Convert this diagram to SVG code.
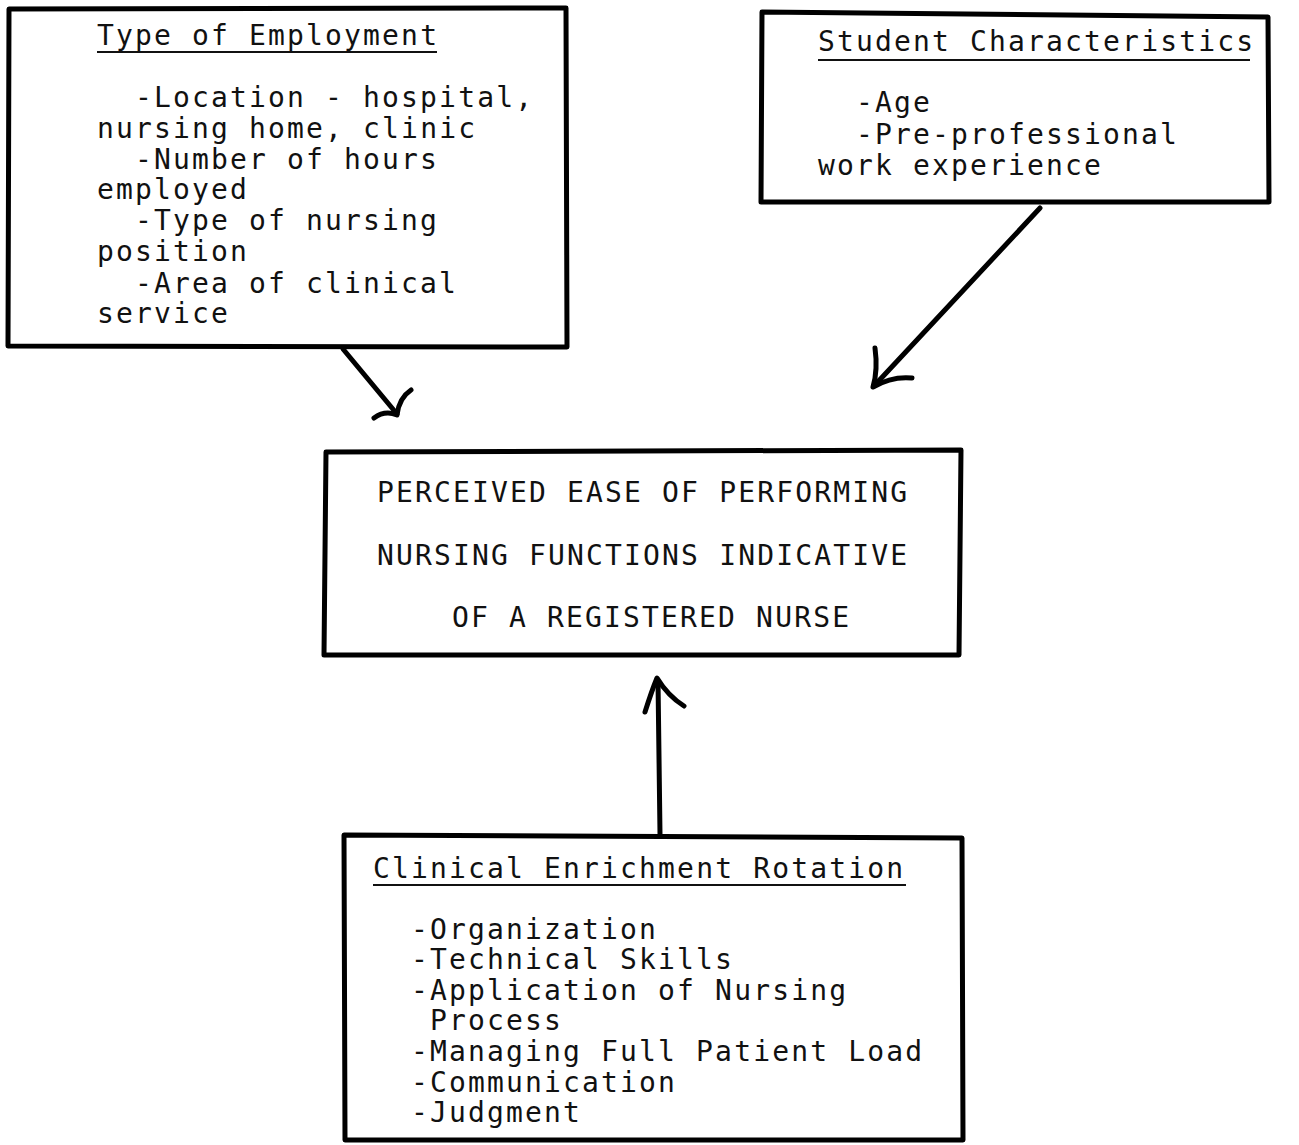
<svg xmlns="http://www.w3.org/2000/svg" width="1299" height="1145" viewBox="0 0 1299 1145">
<style>
  .box { fill: none; stroke: #000; stroke-width: 5; stroke-linejoin: round; stroke-linecap: round; }
  .t { font-family: "DejaVu Sans Mono", "Liberation Mono", monospace; font-size: 28px; letter-spacing: 2.15px; fill: #111; }
  .ul { stroke: #111; stroke-width: 2; }
  .conn { fill: none; stroke: #000; stroke-width: 5; stroke-linecap: round; stroke-linejoin: round; }
</style>
<rect width="1299" height="1145" fill="#fff"/>

<g id="type-of-employment">
  <path class="box" d="M9 9 L566 8 L567 347 L8 346 Z"/>
  <text class="t" x="97" y="45">Type of Employment</text>
  <line class="ul" x1="97" y1="52" x2="437" y2="52"/>
  <text class="t" x="135" y="107">-Location - hospital,</text>
  <text class="t" x="97" y="138">nursing home, clinic</text>
  <text class="t" x="135" y="169">-Number of hours</text>
  <text class="t" x="97" y="199">employed</text>
  <text class="t" x="135" y="230">-Type of nursing</text>
  <text class="t" x="97" y="261">position</text>
  <text class="t" x="135" y="293">-Area of clinical</text>
  <text class="t" x="97" y="323">service</text>
</g>

<g id="student-characteristics">
  <path class="box" d="M762 12 L1268 17 L1269 202 L761 202 Z"/>
  <text class="t" x="818" y="51">Student Characteristics</text>
  <line class="ul" x1="818" y1="60" x2="1250" y2="60"/>
  <text class="t" x="856" y="112">-Age</text>
  <text class="t" x="856" y="144">-Pre-professional</text>
  <text class="t" x="818" y="175">work experience</text>
</g>

<g id="perceived-ease">
  <path class="box" d="M326 452 L961 450 L959 655 L324 655 Z"/>
  <text class="t" x="377" y="502">PERCEIVED EASE OF PERFORMING</text>
  <text class="t" x="377" y="565">NURSING FUNCTIONS INDICATIVE</text>
  <text class="t" x="452" y="627">OF A REGISTERED NURSE</text>
</g>

<g id="clinical-enrichment">
  <path class="box" d="M344 835 L962 838 L963 1140 L345 1140 Z"/>
  <text class="t" x="373" y="878">Clinical Enrichment Rotation</text>
  <line class="ul" x1="373" y1="885" x2="906" y2="885"/>
  <text class="t" x="411" y="939">-Organization</text>
  <text class="t" x="411" y="969">-Technical Skills</text>
  <text class="t" x="411" y="1000">-Application of Nursing</text>
  <text class="t" x="430" y="1030">Process</text>
  <text class="t" x="411" y="1061">-Managing Full Patient Load</text>
  <text class="t" x="411" y="1092">-Communication</text>
  <text class="t" x="411" y="1122">-Judgment</text>
</g>

<g id="connectors">
  <!-- Type of Employment -> Perceived -->
  <path class="conn" d="M343 349 L397 414"/>
  <path class="conn" d="M374 418 Q385 410 397 415 Q399 398 411 390"/>
  <!-- Student Characteristics -> Perceived -->
  <path class="conn" d="M1040 208 L874 386"/>
  <path class="conn" d="M875 348 Q878 370 873 387 Q892 376 912 378"/>
  <!-- Clinical Enrichment -> Perceived -->
  <path class="conn" d="M660 834 L658 680"/>
  <path class="conn" d="M645 712 Q652 690 657 678 Q668 696 684 706"/>
</g>
</svg>
